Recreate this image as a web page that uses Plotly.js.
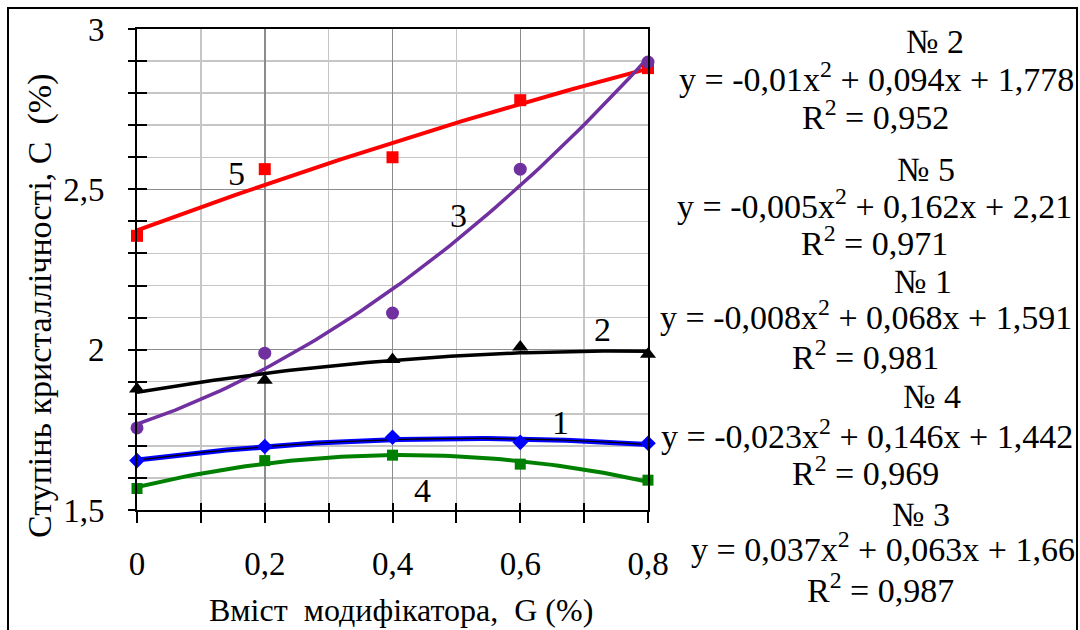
<!DOCTYPE html>
<html><head><meta charset="utf-8">
<script src="https://cdn.plot.ly/plotly-3.0.1.min.js"></script>
<style>html,body{margin:0;padding:0;background:#fff}#chart{width:1080px;height:630px}</style>
</head><body><div id="chart"></div>
<script>
// ---- data ----
const G = [0, 0.2, 0.4, 0.6, 0.8];
const s1 = [1.654, 1.698, 1.727, 1.711, 1.708]; // curve 1 (blue)
const s2 = [1.877, 1.905, 1.969, 2.008, 1.986]; // curve 2 (black)
const s3 = [1.756, 1.989, 2.114, 2.563, 2.897]; // curve 3 (purple)
const s4 = [1.567, 1.654, 1.671, 1.643, 1.593]; // curve 4 (green)
const s5 = [2.355, 2.563, 2.600, 2.778, 2.878]; // curve 5 (red)
const curveNames = ['1', '2', '3', '4', '5'];
const eqNames = ['№ 2', '№ 5', '№ 1', '№ 4', '№ 3'];
const eqFormulas = [
  'y = -0,01x<sup>2</sup> + 0,094x + 1,778',
  'y = -0,005x<sup>2</sup> + 0,162x + 2,21',
  'y = -0,008x<sup>2</sup> + 0,068x + 1,591',
  'y = -0,023x<sup>2</sup> + 0,146x + 1,442',
  'y = 0,037x<sup>2</sup> + 0,063x + 1,66'
];
const eqR2 = ['R<sup>2</sup> = 0,952', 'R<sup>2</sup> = 0,971', 'R<sup>2</sup> = 0,981', 'R<sup>2</sup> = 0,969', 'R<sup>2</sup> = 0,987'];
const xTitle = 'Вміст\u00a0 модифікатора,\u00a0 G (%)';
const yTitle = 'Ступінь кристаллічності, С\u00a0 (%)';

// ---- quadratic least-squares trendline (as the spreadsheet does) ----
function quadFit(xs, ys) {
  let S = [0,0,0,0,0], T = [0,0,0];
  for (let i = 0; i < xs.length; i++) {
    let p = 1;
    for (let k = 0; k < 5; k++) { S[k] += p; p *= xs[i]; }
    T[0] += ys[i]; T[1] += ys[i]*xs[i]; T[2] += ys[i]*xs[i]*xs[i];
  }
  const M = [[S[0],S[1],S[2],T[0]],[S[1],S[2],S[3],T[1]],[S[2],S[3],S[4],T[2]]];
  for (let c = 0; c < 3; c++) {
    for (let r = c+1; r < 3; r++) {
      const f = M[r][c]/M[c][c];
      for (let k = c; k < 4; k++) M[r][k] -= f*M[c][k];
    }
  }
  const a = [0,0,0];
  for (let r = 2; r >= 0; r--) {
    let s = M[r][3];
    for (let k = r+1; k < 3; k++) s -= M[r][k]*a[k];
    a[r] = s/M[r][r];
  }
  return a;
}
function trend(ys) {
  const a = quadFit(G, ys);
  const xs = [], yv = [];
  for (let i = 0; i <= 80; i++) { const x = i*0.01; xs.push(x); yv.push(a[0]+a[1]*x+a[2]*x*x); }
  return {x: xs, y: yv};
}

const FONT = 'Liberation Serif';
const traces = [];
function addTrend(ys, color, w) {
  const t = trend(ys);
  traces.push({x: t.x, y: t.y, mode: 'lines', line: {color: color, width: w}, hoverinfo: 'skip', showlegend: false, cliponaxis: false});
  return t;
}
addTrend(s5, '#ff0000', 4);
addTrend(s3, '#7030a0', 3.5);
addTrend(s2, '#000000', 3.5);
const tb = addTrend(s1, '#0000ff', 5);
traces.push({x: tb.x, y: tb.y, mode: 'lines', line: {color: '#000000', width: 1.3}, hoverinfo: 'skip', showlegend: false});
addTrend(s4, '#008000', 4);

function addMarkers(ys, color, sym, size) {
  traces.push({x: G, y: ys, mode: 'markers', marker: {color: color, symbol: sym, size: size}, showlegend: false, cliponaxis: false});
}
addMarkers(s5, '#ff0000', 'square', 12);
addMarkers(s3, '#7030a0', 'circle', 13);
addMarkers(s2, '#000000', 'triangle-up', 14);
addMarkers(s1, '#0000ff', 'diamond', 12);
addMarkers(s4, '#008000', 'square', 11);
traces.push({x: [null], y: [null], xaxis: 'x2', yaxis: 'y2', mode: 'markers', showlegend: false, hoverinfo: 'skip'});

// ---- geometry (pixels) ----
const L = 137, R = 648, T = 29, B = 510;
const px = v => (v - L) / (R - L);
const py = v => (B - v) / (B - T);

const ann = [];
function txt(text, x, y, size, extra) {
  ann.push(Object.assign({text: text, x: px(x), y: py(y), xref: 'paper', yref: 'paper', showarrow: false,
    xanchor: 'center', yanchor: 'middle', font: {family: FONT, size: size, color: '#000'}}, extra || {}));
}
const eqPos = [[935,42],[876,77],[875,115],[926,169],[874,204],[874,241],[923,281],[866,315],[865,355],[932,396],[867,434],[865,471],[921,514],[883,547],[880,588]];
for (let i = 0; i < 5; i++) {
  txt(eqNames[i], eqPos[i*3][0], eqPos[i*3][1], 34);
  txt(eqFormulas[i], eqPos[i*3+1][0], eqPos[i*3+1][1], 34);
  txt(eqR2[i], eqPos[i*3+2][0], eqPos[i*3+2][1], 34);
}
txt(xTitle, 401, 610, 32);
txt(yTitle, 40, 306, 34, {textangle: -90});

const lblBox = [[403,465,448,505],[575,305,620,342],[430,185,474,225],[528,402,572,436],[210,155,254,188]];
const lblPos = [[422,490],[602,329],[458,215],[560,422],[236,174]];
const order = ['4','2','3','1','5'];
const shapes = [];
for (let i = 0; i < 5; i++) {
  const b = lblBox[i];
  shapes.push({type: 'rect', xref: 'paper', yref: 'paper', x0: px(b[0]), x1: px(b[2]), y0: py(b[3]), y1: py(b[1]),
    fillcolor: '#fff', line: {width: 0}, layer: 'between'});
  txt(curveNames[curveNames.indexOf(order[i])], lblPos[i][0], lblPos[i][1], 34);
}
shapes.push({type: 'rect', xref: 'paper', yref: 'paper', x0: px(8), x1: px(1077), y0: py(650), y1: py(8),
  line: {color: '#000', width: 2}, fillcolor: 'rgba(0,0,0,0)', layer: 'above'});

const layout = {
  width: 1080, height: 630,
  margin: {l: L, r: 1080 - R, t: T, b: 630 - B, pad: 0},
  paper_bgcolor: '#fff', plot_bgcolor: 'rgba(0,0,0,0)',
  separators: ', ',
  showlegend: false,
  font: {family: FONT, size: 33, color: '#000'},
  xaxis: {range: [0, 0.8], tick0: 0, dtick: 0.2, ticks: 'outside', ticklen: 11, tickwidth: 2, tickcolor: '#000',
    showline: true, mirror: true, linecolor: '#000', linewidth: 2, zeroline: false,
    showgrid: true, gridcolor: '#8c8c8c', gridwidth: 1.5, ticklabelstandoff: 12,
    tickfont: {family: FONT, size: 33, color: '#000'},
    minor: {dtick: 0.1, tick0: 0, ticks: 'outside', ticklen: 11, tickwidth: 2, tickcolor: '#000', showgrid: true, gridcolor: '#c6c6c6', gridwidth: 1.5}},
  yaxis: {range: [1.5, 3], tick0: 1.5, dtick: 0.5, ticks: 'outside', ticklen: 7, tickwidth: 2, tickcolor: '#000',
    showline: true, mirror: true, linecolor: '#000', linewidth: 2, zeroline: false,
    showgrid: true, gridcolor: '#8c8c8c', gridwidth: 1.5, ticklabelstandoff: 17,
    tickfont: {family: FONT, size: 33, color: '#000'},
    minor: {dtick: 0.1, tick0: 1.5, ticks: 'outside', ticklen: 7, tickwidth: 2, tickcolor: '#000', showgrid: true, gridcolor: '#c6c6c6', gridwidth: 1.5}},
  xaxis2: {overlaying: 'x', anchor: 'y', side: 'bottom', range: [0, 0.8], tick0: 0, dtick: 0.1, ticks: 'inside', ticklen: 7,
    tickwidth: 2, tickcolor: '#000', showticklabels: false, showgrid: false, zeroline: false, showline: false},
  yaxis2: {overlaying: 'y', anchor: 'x', side: 'left', range: [1.5, 3], tick0: 1.5, dtick: 0.1, ticks: 'inside', ticklen: 10,
    tickwidth: 2, tickcolor: '#000', showticklabels: false, showgrid: false, zeroline: false, showline: false},
  annotations: ann,
  shapes: shapes
};
Plotly.newPlot('chart', traces, layout, {staticPlot: true, displayModeBar: false});
</script></body></html>
